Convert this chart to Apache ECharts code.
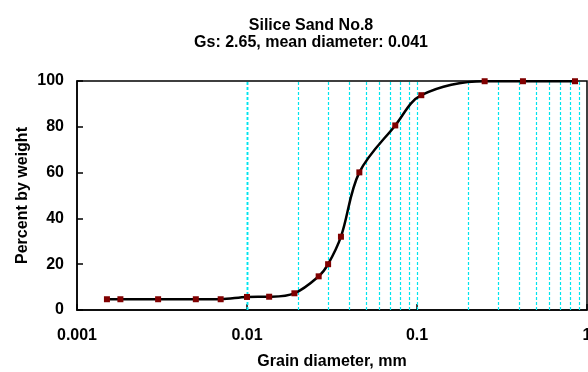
<!DOCTYPE html>
<html>
<head>
<meta charset="utf-8">
<script src="https://cdn.jsdelivr.net/npm/echarts@6/dist/echarts.min.js"></script>
<style>
  html, body { margin: 0; padding: 0; background: #fff; }
  #chart { width: 588px; height: 372px; }
</style>
</head>
<body>
<div id="chart"></div>
<script>
// grain size distribution
const grainSize = [0.0015, 0.0018, 0.003, 0.005, 0.007, 0.01, 0.0135, 0.019, 0.0264, 0.03, 0.0357, 0.0458, 0.0745, 0.106, 0.25, 0.42, 0.85]
const percentFiner = [4.7, 4.7, 4.7, 4.7, 4.7, 5.7, 5.8, 7.3, 14.7, 20, 32, 60.1, 80.6, 93.8, 99.9, 99.9, 99.9]
// vertical guide lines (2..9 of each decade)
const gridLines = [0.002, 0.003, 0.004, 0.005, 0.006, 0.007, 0.008, 0.009, 0.01,
  0.02, 0.03, 0.04, 0.05, 0.06, 0.07, 0.08, 0.09, 0.1,
  0.2, 0.3, 0.4, 0.5, 0.6, 0.7, 0.8, 0.9]
const xTickLabels = { 0.001: "0.001", 0.01: "0.01", 0.1: "0.1", 1: "1" }

const font = "'Liberation Sans', Arial, sans-serif"

const myE = echarts.init(document.getElementById("chart"))
let option = {
  animation: false,
  title: {
    text: "Silice Sand No.8\nGs: 2.65, mean diameter: 0.041",
    left: 306,
    top: 12,
    textAlign: "center",
    textStyle: {
      fontFamily: font,
      fontSize: 16,
      fontWeight: "bold",
      color: "#000",
      lineHeight: 17,
    },
  },
  grid: {
    left: 77,
    right: 1,
    top: 81,
    bottom: 62,
    outerBoundsMode: "none",
    containLabel: false,
    show: true,
    borderColor: "#000",
    borderWidth: 1.5,
  },
  xAxis: {
    type: "log",
    logBase: 10,
    min: 0.001,
    max: 1,
    z: 4,
    name: "Grain diameter, mm",
    nameLocation: "middle",
    nameGap: 44,
    nameMoveOverlap: false,
    nameTextStyle: { fontFamily: font, fontSize: 16, fontWeight: "bold", color: "#000" },
    axisLine: { lineStyle: { color: "#000", width: 1.5 } },
    axisTick: { inside: true, length: 6, lineStyle: { color: "#000", width: 1.5 } },
    axisLabel: {
      fontFamily: font,
      fontSize: 16,
      fontWeight: "bold",
      color: "#000",
      margin: 18,
      formatter: (v) => xTickLabels[v] || "",
    },
    splitLine: { show: false },
  },
  yAxis: {
    type: "value",
    min: 0,
    max: 100,
    interval: 20,
    name: "Percent by weight",
    nameLocation: "middle",
    nameGap: 46,
    nameMoveOverlap: false,
    nameTextStyle: { fontFamily: font, fontSize: 16, fontWeight: "bold", color: "#000" },
    axisLine: { show: true, lineStyle: { color: "#000", width: 1.5 } },
    axisTick: { inside: true, length: 6, lineStyle: { color: "#000", width: 1.5 } },
    axisLabel: {
      fontFamily: font,
      fontSize: 16,
      fontWeight: "bold",
      color: "#000",
      margin: 13,
    },
    splitLine: { show: false },
  },
  series: [
    {
      name: "guides",
      type: "line",
      data: [],
      silent: true,
      z: 1,
      markLine: {
        silent: true,
        symbol: "none",
        label: { show: false },
        lineStyle: { color: "#00e5ee", type: [3, 2], width: 1.2 },
        data: gridLines.map((v) => ({ xAxis: v })),
      },
    },
    {
      name: "Silica Sand No.8",
      type: "line",
      smooth: 0.35,
      data: grainSize.map((d, i) => [d, percentFiner[i]]),
      symbol: "rect",
      symbolSize: 6,
      itemStyle: { color: "#800000" },
      lineStyle: { color: "#000", width: 2.5 },
      z: 5,
    },
  ],
}
myE.setOption(option)
window.addEventListener("resize", () => {
  myE.resize()
})
</script>
</body>
</html>
